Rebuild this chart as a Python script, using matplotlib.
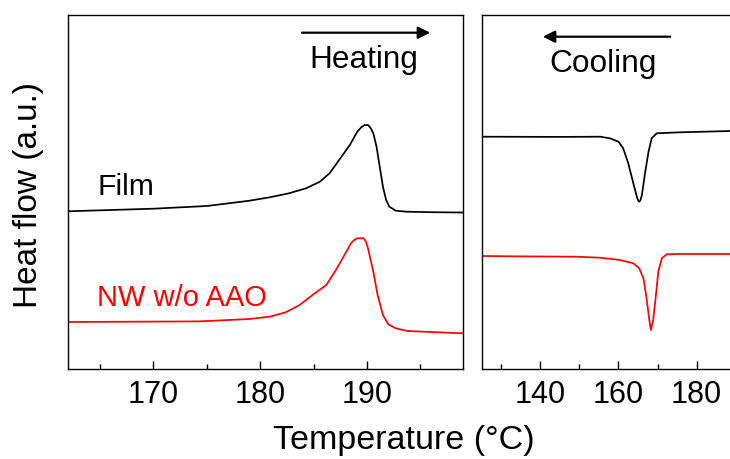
import matplotlib
matplotlib.use("Agg")
import matplotlib.pyplot as plt

plt.rcParams['font.family'] = ['Liberation Sans', 'DejaVu Sans']

# ---- Heating (left panel) ----
heat_T_film = [162.0, 166, 170, 175, 179.0, 180.9, 182.7, 184.3, 185.6, 186.5, 187.4, 188.4, 189.1, 189.5, 189.8, 190.1,
               190.35, 190.6, 190.9, 191.2, 191.5, 191.8, 192.1, 192.7, 193.7, 196, 199.0]
heat_y_film = [157.7, 159.0, 160.3, 163.0, 168.3, 171.7, 175.7, 180.7, 187.3, 195.7, 209.0, 224.0, 237.3, 242.0, 244.0, 244.0,
               241.0, 235.7, 222.3, 202.3, 182.3, 169.0, 162.3, 158.3, 157.3, 156.8, 156.5]

heat_T_nw = [162.0, 166, 170, 174.3, 179.0, 180.9, 182.4, 183.7, 184.9, 186.2, 187.1, 187.9, 188.5, 188.8, 189.1, 189.7,
             189.9, 190.1, 190.6, 191.0, 191.5, 192.0, 192.7, 193.8, 196, 199.0]
heat_y_nw = [47.0, 47.2, 47.4, 47.6, 50.0, 52.3, 56.7, 64.0, 74.0, 84.0, 99.0, 114.0, 125.7, 129.0, 130.7, 130.7,
             127.5, 120.7, 97.3, 74.0, 54.0, 44.7, 40.7, 38.0, 37.0, 35.7]

# ---- Cooling (right panel) ----
cool_T_film = [125.0, 135, 145, 155.3, 157.8, 160.0, 161.2, 162.5, 163.8, 164.7, 165.05, 165.3, 165.6, 166.0, 166.8, 167.7,
               168.5, 169.8, 175.8, 182, 188.6, 192]
cool_y_film = [232.3, 232.2, 232.1, 232.3, 230.7, 227.3, 220.7, 205.7, 185.7, 172.3, 168.5, 167.3, 168.5, 174.0, 195.7, 217.3,
               230.7, 235.7, 236.7, 237.3, 238.0, 238.2]

cool_T_nw = [125.0, 135, 149.0, 155.3, 160.4, 163.8, 165.3, 166.4, 167.2, 167.9, 168.3, 168.9, 169.6, 170.2, 171.1, 172.4,
             175.8, 182, 188.6, 192]
cool_y_nw = [113.0, 112.6, 112.3, 111.3, 109.0, 105.7, 100.7, 90.7, 70.7, 49.0, 39.0, 49.0, 74.0, 97.3, 110.7, 114.7,
             115.0, 115.0, 115.0, 115.0]

heat_major = [170, 180, 190]
heat_minor = [165, 175, 185, 195]
cool_major = [140, 160, 180]
cool_minor = [130, 150, 170, 190]

W, H = 730, 459
fig = plt.figure(figsize=(W / 100, H / 100), dpi=100)

def px_axes(x0, x1, y0, y1):
    return fig.add_axes([x0 / W, 1 - y1 / H, (x1 - x0) / W, (y1 - y0) / H])

ax1 = px_axes(68, 463, 15, 369)
ax2 = px_axes(482, 740, 15, 369)

kw = dict(lw=1.25, solid_joinstyle='round', solid_capstyle='round')
ax1.plot(heat_T_film, heat_y_film, color='black', **kw)
ax1.plot(heat_T_nw, heat_y_nw, color='#ff0000', **kw)
ax2.plot(cool_T_film, cool_y_film, color='black', **kw)
ax2.plot(cool_T_nw, cool_y_nw, color='#ff0000', **kw)

ax1.set_xlim(162.0, 199.0)
ax2.set_xlim(125.0, 125.0 + 258 / 3.9)
for ax in (ax1, ax2):
    ax.set_ylim(0, 354)
    ax.set_yticks([])
    for s in ax.spines.values():
        s.set_linewidth(1.0)
    ax.tick_params(axis='x', which='major', direction='in', length=6, width=1.0,
                   labelsize=22, pad=8, top=False)
    ax.tick_params(axis='x', which='minor', direction='in', length=3.5, width=1.0, top=False)

ax1.set_xticks(heat_major)
ax1.set_xticks(heat_minor, minor=True)
ax2.set_xticks(cool_major)
ax2.set_xticks(cool_minor, minor=True)
ax2.spines['right'].set_visible(False)

# arrows and labels
ax1.annotate('', xy=(199 - (463 - 433) / 10.67, 369 - 32.7), xytext=(162 + (299 - 68) / 10.67, 369 - 32.7),
             arrowprops=dict(arrowstyle='-|>', color='black', lw=1.6, mutation_scale=18))
ax1.text(162 + (364 - 68) / 10.67, 369 - 60, 'Heating', fontsize=22.7, ha='center', va='center')
ax1.text(162 + (97 - 68) / 10.67, 369 - 187, 'Film', fontsize=21.7, ha='left', va='center')
ax1.text(162 + (97 - 68) / 10.67, 369 - 298, 'NW w/o AAO', fontsize=21, ha='left', va='center', color='#ff0000')

ax2.annotate('', xy=(125 + (540 - 482) / 3.9, 369 - 36.7), xytext=(125 + (673 - 482) / 3.9, 369 - 36.7),
             arrowprops=dict(arrowstyle='-|>', color='black', lw=1.6, mutation_scale=18))
ax2.text(125 + (603 - 482) / 3.9, 369 - 64, 'Cooling', fontsize=22.8, ha='center', va='center')

fig.text(29 / W, 1 - 195 / H, 'Heat flow (a.u.)', rotation=90, fontsize=24, ha='center', va='center')
fig.text(404 / W, 1 - 441 / H, 'Temperature (°C)', fontsize=24.5, ha='center', va='center')

fig.savefig('out.png', dpi=100)
